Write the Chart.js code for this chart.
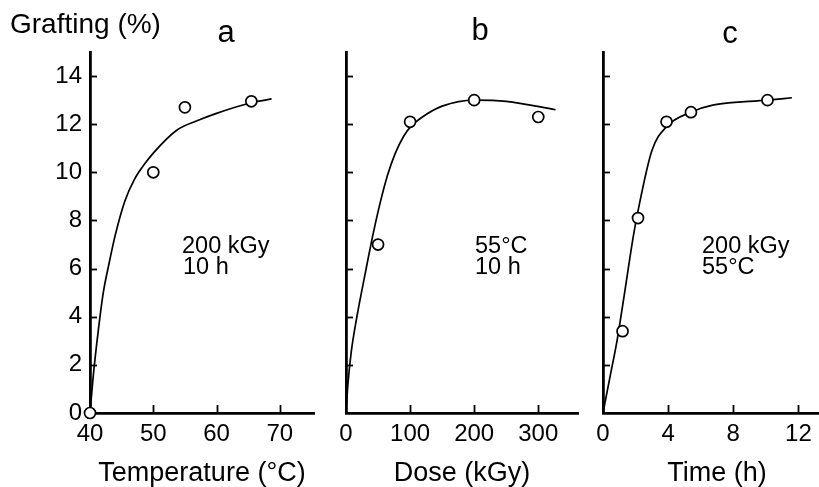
<!DOCTYPE html>
<html><head><meta charset="utf-8">
<script src="https://cdn.jsdelivr.net/npm/chart.js@4"></script>
<style>
html,body{margin:0;padding:0;background:#fff;overflow:hidden;width:819px;height:487px;}
#wrap{position:relative;width:819px;height:487px;overflow:hidden;background:#fff;}
canvas{position:absolute;top:0;}
</style></head><body>
<div id="wrap">
<canvas id="ca" width="330" height="487" style="left:0px"></canvas>
<canvas id="cb" width="300" height="487" style="left:300px"></canvas>
<canvas id="cc" width="300" height="487" style="left:560px"></canvas>
</div>
<script>
// ---- shared y axis ----
const yTicks = [0, 2, 4, 6, 8, 10, 12, 14];

// ---- panel a: temperature ----
const tempTicks = [40, 50, 60, 70];
const tempPoints = [40, 50, 55, 65.5];
const tempGrafting = [0, 10, 12.7, 12.95];
const tempCurveX = [40, 40.5, 41.3, 42.1, 43, 44, 45.5, 47, 48.5, 50, 53.7, 57, 60, 65.6, 68.7];
const tempCurveY = [0, 1.5, 3.4, 5.0, 6.2, 7.4, 8.8, 9.7, 10.3, 10.8, 11.75, 12.15, 12.45, 12.9, 13.05];

// ---- panel b: dose ----
const doseTicks = [0, 100, 200, 300];
const dosePoints = [50, 100, 200, 300];
const doseGrafting = [7.0, 12.1, 13.0, 12.3];
const doseCurveX = [0, 3, 8, 17, 30, 42, 53, 65, 77, 90, 101, 125, 150, 200, 250, 327];
const doseCurveY = [0, 1.2, 2.5, 4.0, 5.8, 7.4, 8.7, 9.9, 10.8, 11.5, 11.9, 12.4, 12.75, 13.0, 12.95, 12.6];

// ---- panel c: time ----
const timeTicks = [0, 4, 8, 12];
const timePoints = [1.2, 2.15, 3.9, 5.4, 10.1];
const timeGrafting = [3.4, 8.1, 12.1, 12.5, 13.0];
const timeCurveX = [0, 0.43, 0.86, 1.35, 1.85, 2.15, 3.0, 3.9, 5.4, 6.8, 10.1, 11.6];
const timeCurveY = [0, 1.5, 3.0, 5.1, 7.3, 8.4, 10.9, 11.9, 12.5, 12.8, 13.0, 13.1];

const FONT = "'Liberation Sans', Arial, Helvetica, sans-serif";
Chart.defaults.font.family = FONT;
Chart.defaults.color = '#000';

const zip = (xs, ys) => xs.map((x, i) => ({x, y: ys[i]}));

const innerTicks = {
  id: 'innerTicks',
  afterDraw(chart) {
    const {ctx, chartArea: {left, bottom}} = chart;
    const xs = chart.scales.x, ys = chart.scales.y;
    ctx.save();
    ctx.strokeStyle = '#000';
    ctx.lineWidth = 1.8;
    ys.ticks.forEach(t => {
      if (t.value === ys.min) return;
      const py = Math.round(ys.getPixelForValue(t.value)) + 0.5;
      ctx.beginPath(); ctx.moveTo(left, py); ctx.lineTo(left + 7, py); ctx.stroke();
    });
    xs.ticks.forEach(t => {
      if (t.value === xs.min) return;
      const px = Math.round(xs.getPixelForValue(t.value)) + 0.5;
      ctx.beginPath(); ctx.moveTo(px, bottom); ctx.lineTo(px, bottom - 8); ctx.stroke();
    });
    ctx.restore();
  }
};

const textLabels = {
  id: 'textLabels',
  afterDraw(chart, args, opts) {
    const ctx = chart.ctx;
    ctx.save();
    ctx.fillStyle = '#000';
    ctx.textBaseline = 'middle';
    (opts.items || []).forEach(it => {
      ctx.font = it.size + 'px ' + FONT;
      ctx.textAlign = it.align || 'left';
      ctx.fillText(it.text, it.x, it.y);
    });
    ctx.restore();
  }
};

function makeChart(id, cfg) {
  return new Chart(document.getElementById(id), {
    type: 'scatter',
    data: {
      datasets: [
        {
          data: zip(cfg.pointsX, cfg.pointsY),
          showLine: false,
          pointRadius: 5.5,
          pointBorderWidth: 1.7,
          pointBackgroundColor: '#fff',
          pointBorderColor: '#000',
          clip: false,
          order: 0
        },
        {
          data: zip(cfg.curveX, cfg.curveY),
          showLine: true,
          pointRadius: 0,
          borderColor: '#000',
          borderWidth: 1.7,
          cubicInterpolationMode: 'monotone',
          clip: false,
          order: 1
        }
      ]
    },
    options: {
      responsive: false,
      animation: false,
      events: [],
      layout: {padding: {top: 52, right: cfg.padRight, bottom: 0, left: 0}},
      plugins: {
        legend: {display: false},
        tooltip: {enabled: false},
        textLabels: {items: cfg.texts}
      },
      scales: {
        x: {
          type: 'linear',
          min: cfg.xMin, max: cfg.xMax,
          afterBuildTicks: s => { s.ticks = cfg.xTicks.map(v => ({value: v})); },
          afterFit: s => { s.height = 74; },
          grid: {display: false, drawTicks: false},
          border: {display: true, width: 2.8, color: '#000'},
          ticks: {padding: 7, font: {size: 24}, maxRotation: 0, autoSkip: false, color: '#000'},
          title: {display: true, text: cfg.xTitle, font: {size: 27, lineHeight: 1.0}, padding: {top: 0, bottom: 0}, color: '#000'}
        },
        y: {
          type: 'linear',
          min: 0, max: 15,
          afterBuildTicks: s => { s.ticks = yTicks.map(v => ({value: v})); },
          afterFit: s => { s.width = cfg.yWidth; },
          grid: {display: false, drawTicks: false},
          border: {display: true, width: 2.8, color: '#000'},
          ticks: {display: cfg.yLabels, padding: 8, font: {size: 24}, color: '#000'}
        }
      }
    },
    plugins: [innerTicks, textLabels]
  });
}

makeChart('ca', {
  pointsX: tempPoints, pointsY: tempGrafting,
  curveX: tempCurveX, curveY: tempCurveY,
  xMin: 40, xMax: 75.4, xTicks: tempTicks,
  xTitle: 'Temperature (°C)',
  yWidth: 90, yLabels: true, padRight: 16,
  texts: [
    {text: 'Grafting (%)', x: 10, y: 25, size: 28},
    {text: 'a', x: 226, y: 33, size: 31, align: 'center'},
    {text: '200 kGy', x: 182, y: 247, size: 23.5},
    {text: '10 h', x: 183, y: 268, size: 23.5}
  ]
});

makeChart('cb', {
  pointsX: dosePoints, pointsY: doseGrafting,
  curveX: doseCurveX, curveY: doseCurveY,
  xMin: 0, xMax: 362, xTicks: doseTicks,
  xTitle: 'Dose (kGy)',
  yWidth: 46, yLabels: false, padRight: 22,
  texts: [
    {text: 'b', x: 180, y: 31, size: 31, align: 'center'},
    {text: '55°C', x: 175, y: 247, size: 23.5},
    {text: '10 h', x: 175, y: 268, size: 23.5}
  ]
});

makeChart('cc', {
  pointsX: timePoints, pointsY: timeGrafting,
  curveX: timeCurveX, curveY: timeCurveY,
  xMin: 0, xMax: 14, xTicks: timeTicks,
  xTitle: 'Time (h)',
  yWidth: 43, yLabels: false, padRight: 29,
  texts: [
    {text: 'c', x: 170, y: 34, size: 31, align: 'center'},
    {text: '200 kGy', x: 142, y: 247, size: 23.5},
    {text: '55°C', x: 142, y: 268, size: 23.5}
  ]
});
</script>
</body></html>
